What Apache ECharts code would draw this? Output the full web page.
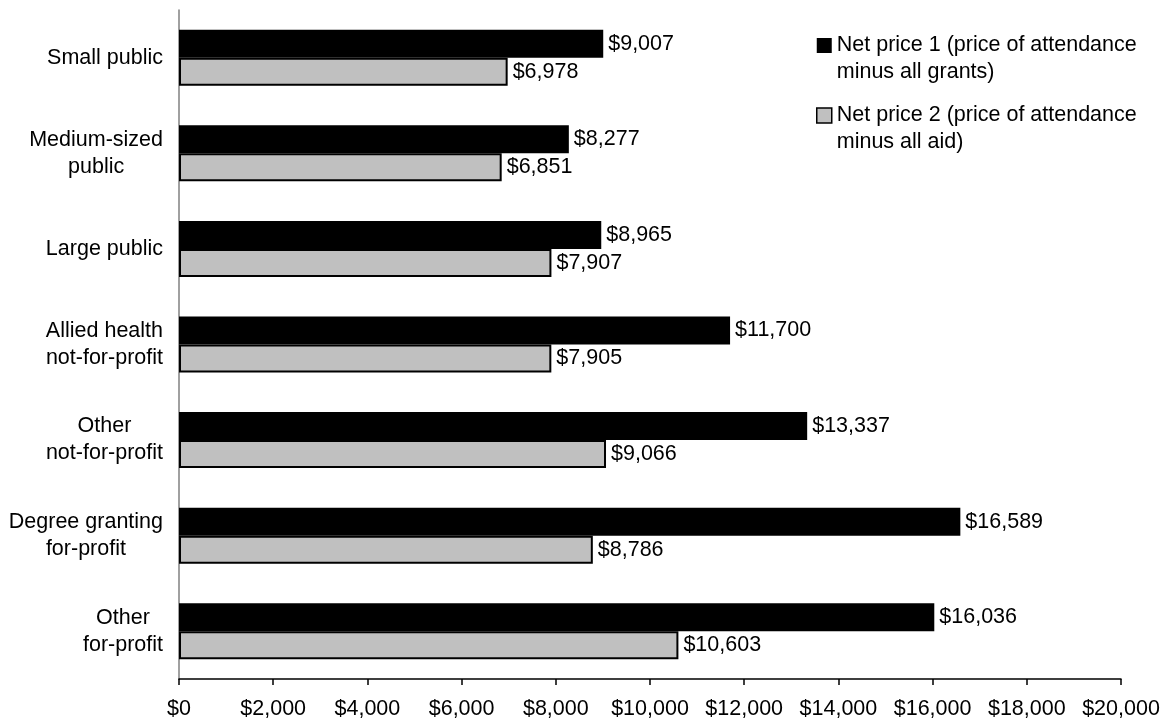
<!DOCTYPE html>
<html>
<head>
<meta charset="utf-8">
<script src="https://cdn.jsdelivr.net/npm/echarts@6/dist/echarts.min.js"></script>
<style>
  html, body { margin: 0; padding: 0; background: #fff; }
  #chart { width: 1166px; height: 723px; }
</style>
</head>
<body>
<div id="chart"></div>
<script>
const categories = [
  "Small public",
  "Medium-sized\npublic",
  "Large public",
  "Allied health\nnot-for-profit",
  "Other\nnot-for-profit",
  "Degree granting\nfor-profit",
  "Other\nfor-profit"
];
const seriesNames = [
  "Net price 1 (price of attendance\nminus all grants)",
  "Net price 2 (price of attendance\nminus all aid)"
];
const netPrice1 = [9007, 8277, 8965, 11700, 13337, 16589, 16036];
const netPrice2 = [6978, 6851, 7907, 7905, 9066, 8786, 10603];
const xMin = 0, xMax = 20000, xStep = 2000;

const FONT = "'Liberation Sans', Arial, Helvetica, sans-serif";
const FS = 21.5;
const money = v => '$' + Number(v).toLocaleString('en-US');

const chart = echarts.init(document.getElementById('chart'), null, { renderer: 'canvas' });
chart.setOption({
  animation: false,
  backgroundColor: '#ffffff',
  textStyle: { fontFamily: FONT, color: '#000' },
  grid: { left: 179, right: 45, top: 10, bottom: 44, containLabel: false },
  legend: {
    orient: 'vertical',
    left: 816,
    top: 5,
    padding: 0,
    itemGap: -11,
    itemWidth: 15,
    itemHeight: 15,
    icon: 'rect',
    selectedMode: false,
    // leading blank line keeps the first text line level with the marker
    formatter: name => ' \n' + name,
    textStyle: { fontFamily: FONT, fontSize: FS, lineHeight: 27, color: '#000' },
    data: [
      { name: seriesNames[0], itemStyle: { color: '#000', borderColor: '#000', borderWidth: 0 } },
      { name: seriesNames[1], itemStyle: { color: '#c0c0c0', borderColor: '#000', borderWidth: 1.5 } }
    ]
  },
  xAxis: {
    type: 'value',
    min: xMin, max: xMax, interval: xStep,
    axisLine: { show: true, lineStyle: { color: '#000', width: 1.5 } },
    axisTick: { show: true, length: 6, lineStyle: { color: '#000', width: 1.5 } },
    splitLine: { show: false },
    axisLabel: { formatter: money, fontSize: FS, color: '#000', fontFamily: FONT, margin: 19 }
  },
  yAxis: {
    type: 'category',
    inverse: true,
    data: categories,
    axisLine: { show: true, lineStyle: { color: '#808080', width: 1.5 } },
    axisTick: { show: false },
    axisLabel: {
      margin: 16,
      fontFamily: FONT,
      fontSize: FS,
      lineHeight: 27,
      color: '#000',
      formatter: v => v.split('\n').map(l => '{c|' + l + '}').join('\n'),
      rich: { c: { align: 'center', fontSize: FS, lineHeight: 27, fontFamily: FONT, color: '#000' } }
    }
  },
  series: [
    {
      name: seriesNames[0],
      type: 'bar',
      data: netPrice1,
      barWidth: 28,
      barGap: '0%',
      itemStyle: { color: '#000000' },
      label: { show: true, position: 'right', distance: 5, formatter: p => money(p.value), fontSize: FS, color: '#000', fontFamily: FONT }
    },
    {
      name: seriesNames[1],
      type: 'bar',
      data: netPrice2,
      barWidth: 28,
      barGap: '0%',
      itemStyle: { color: '#c0c0c0', borderColor: '#000', borderWidth: 2 },
      label: { show: true, position: 'right', distance: 5, formatter: p => money(p.value), fontSize: FS, color: '#000', fontFamily: FONT }
    }
  ]
});
</script>
</body>
</html>
